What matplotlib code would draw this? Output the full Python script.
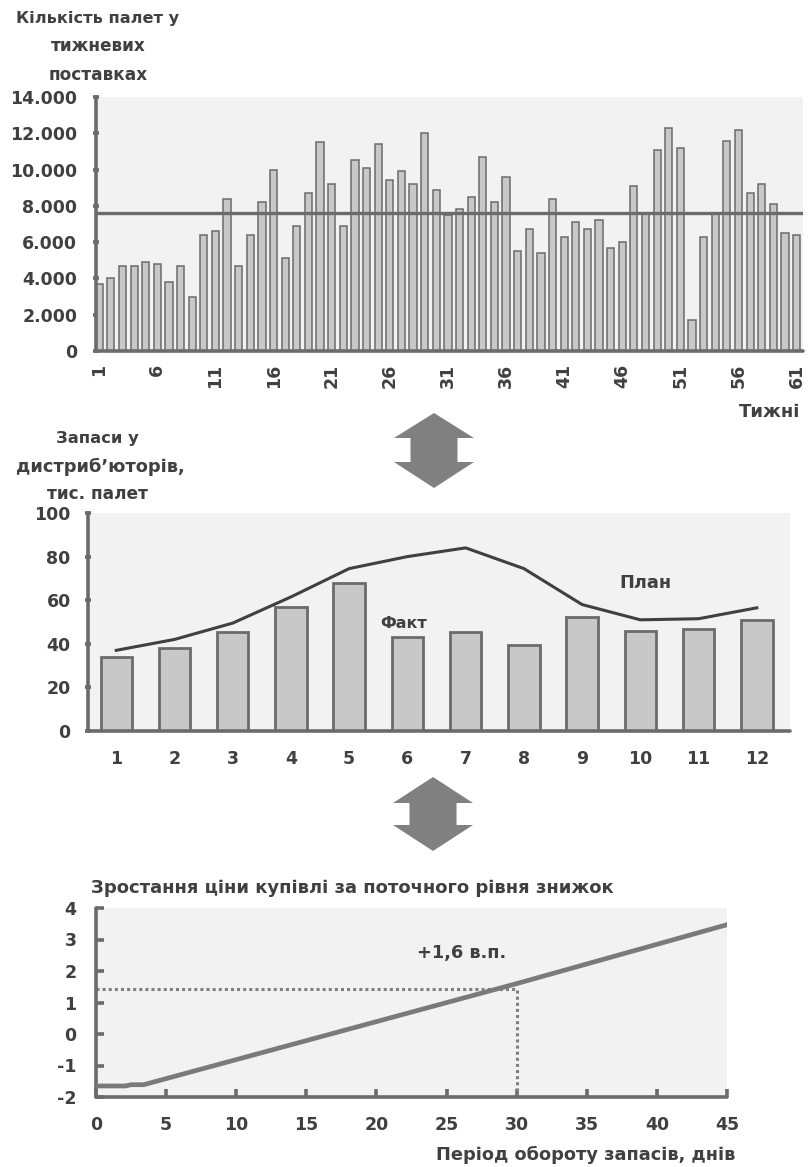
import matplotlib
matplotlib.use("Agg")
import matplotlib.pyplot as plt
from matplotlib.patches import Polygon
from matplotlib.ticker import FuncFormatter

# ---- weekly deliveries -------------------------------------------------
weeks = list(range(1, 62))
weekly_pallets = [3700, 4000, 4700, 4700, 4900, 4800, 3800, 4700, 3000, 6400,
                  6600, 8400, 4700, 6400, 8200, 10000, 5100, 6900, 8700, 11500,
                  9200, 6900, 10500, 10100, 11400, 9400, 9900, 9200, 12000, 8900,
                  7500, 7800, 8500, 10700, 8200, 9600, 5500, 6700, 5400, 8400,
                  6300, 7100, 6700, 7200, 5700, 6000, 9100, 7600, 11100, 12300,
                  11200, 1700, 6300, 7600, 11600, 12200, 8700, 9200, 8100, 6500,
                  6400]
weekly_average = 7600
week_ticks = list(range(1, 62, 5))
pallet_ticks = list(range(0, 14001, 2000))

# ---- distributor stocks ------------------------------------------------
months = list(range(1, 13))
stock_fact = [34, 38, 45.5, 57, 68, 43, 45.5, 39.5, 52.5, 46, 47, 51]
stock_plan = [37, 42, 49.5, 61.5, 74.5, 80, 84, 74.5, 58, 51, 51.5, 56.5]
stock_ticks = [0, 20, 40, 60, 80, 100]

# ---- purchase price growth vs. stock turnover --------------------------
turnover_days = [0, 2.1, 2.5, 3.4, 30, 45]
price_growth = [-1.65, -1.65, -1.61, -1.61, 1.6, 3.47]
ref_days = 30
ref_growth = 1.44
day_ticks = list(range(0, 46, 5))
growth_ticks = list(range(-2, 5))

TXT = "#404040"
AX = "#6b6b6b"
BG = "#f2f2f2"
BAR = "#c8c8c8"
FONT = "DejaVu Sans"

plt.rcParams["font.family"] = FONT
plt.rcParams["font.weight"] = "bold"
plt.rcParams["axes.unicode_minus"] = False

fig = plt.figure(figsize=(8.08, 11.67), dpi=100)
W, H = 808, 1167


def px_axes(x0, y0, x1, y1):
    return fig.add_axes([x0 / W, 1 - y1 / H, (x1 - x0) / W, (y1 - y0) / H])


def style(ax):
    ax.set_facecolor(BG)
    for s in ("top", "right"):
        ax.spines[s].set_visible(False)
    for s in ("left", "bottom"):
        ax.spines[s].set_color(AX)
        ax.spines[s].set_linewidth(2.6)
        ax.spines[s].set_capstyle("round")
    ax.tick_params(colors=TXT, labelsize=12.5, width=2.6, color=AX)


def bold_ticks(ax):
    for lab in ax.get_xticklabels() + ax.get_yticklabels():
        lab.set_fontweight("bold")


def label(x, y, txt, size, ha="center"):
    fig.text(x / W, 1 - y / H, txt, ha=ha, va="center", fontsize=size,
             color=TXT, fontweight="bold")


# ---- top panel ---------------------------------------------------------
ax1 = px_axes(96, 97, 803, 351)
ax1.bar(weeks, weekly_pallets, width=0.62, color=BAR, edgecolor=AX,
        linewidth=1.1, zorder=2)
ax1.axhline(weekly_average, color=AX, linewidth=2.4, zorder=3)
ax1.set_xlim(0.72, 61.55)
ax1.set_ylim(0, 14000)
ax1.set_yticks(pallet_ticks)
ax1.yaxis.set_major_formatter(
    FuncFormatter(lambda v, p: f"{int(v):,}".replace(",", ".")))
ax1.set_xticks(week_ticks)
ax1.set_xticklabels([str(w) for w in week_ticks], rotation=90)
style(ax1)
ax1.tick_params(axis="y", direction="inout", length=5, pad=11)
ax1.tick_params(axis="x", length=0, pad=9)
bold_ticks(ax1)

label(98, 18, "Кількість палет у", 11.6)
label(98, 46, "тижневих", 12.2)
label(98, 75, "поставках", 12.2)
label(800, 412, "Тижні", 13, ha="right")

# ---- middle panel ------------------------------------------------------
ax2 = px_axes(88, 513, 790, 731)
ax2.bar(months, stock_fact, width=0.54, color=BAR, edgecolor=AX,
        linewidth=2.0, zorder=2)
ax2.plot(months, stock_plan, color="#404040", linewidth=2.2, zorder=3)
ax2.set_xlim(0.515, 12.57)
ax2.set_ylim(0, 100)
ax2.set_yticks(stock_ticks)
ax2.set_xticks(months)
style(ax2)
ax2.tick_params(axis="y", direction="inout", length=5, pad=10)
ax2.tick_params(axis="x", length=0, pad=14)
bold_ticks(ax2)
ax2.text(5.94, 49.5, "Факт", ha="center", va="center", fontsize=11.5,
         color=TXT, fontweight="bold")
ax2.text(10.09, 68.1, "План", ha="center", va="center", fontsize=12.8,
         color=TXT, fontweight="bold")

label(97, 439, "Запаси у", 11.8)
label(100, 467, "дистриб’юторів,", 12.8)
label(97, 494, "тис. палет", 12.2)

# ---- bottom panel ------------------------------------------------------
ax3 = px_axes(96, 908, 727, 1097)
ax3.plot(turnover_days, price_growth, color="#7a7a7a", linewidth=3.4,
         solid_capstyle="round", zorder=3)
ax3.plot([0, ref_days], [ref_growth, ref_growth], color="#808080",
         linewidth=2.2, linestyle=(0, (1, 1)), dash_capstyle="butt", zorder=2)
ax3.plot([ref_days, ref_days], [-2, ref_growth], color="#808080",
         linewidth=2.2, linestyle=(0, (1, 1)), dash_capstyle="butt", zorder=2)
ax3.set_xlim(0, 45)
ax3.set_ylim(-2, 4)
ax3.set_xticks(day_ticks)
ax3.set_yticks(growth_ticks)
style(ax3)
ax3.tick_params(axis="both", direction="in", length=6)
ax3.tick_params(axis="y", pad=14)
ax3.tick_params(axis="x", pad=14)
bold_ticks(ax3)
ax3.text(26.1, 2.58, "+1,6 в.п.", ha="center", va="center", fontsize=12.8,
         color=TXT, fontweight="bold")

label(91, 888, "Зростання ціни купівлі за поточного рівня знижок", 13, ha="left")
label(735, 1155, "Період обороту запасів, днів", 12.8, ha="right")

# ---- connecting double arrows -----------------------------------------
overlay = fig.add_axes([0, 0, 1, 1], zorder=-1)
overlay.set_xlim(0, W)
overlay.set_ylim(H, 0)
overlay.axis("off")


def double_arrow(cx, top, head1, head2, bottom, hw=40, sw=23.5):
    pts = [(cx, top), (cx + hw, head1), (cx + sw, head1), (cx + sw, head2),
           (cx + hw, head2), (cx, bottom), (cx - hw, head2), (cx - sw, head2),
           (cx - sw, head1), (cx - hw, head1)]
    overlay.add_patch(Polygon(pts, closed=True, facecolor="#808080",
                              edgecolor="none"))


double_arrow(434, 413, 438, 462, 488)
double_arrow(433, 777, 803, 825, 851)

fig.savefig("out.png", dpi=100)
